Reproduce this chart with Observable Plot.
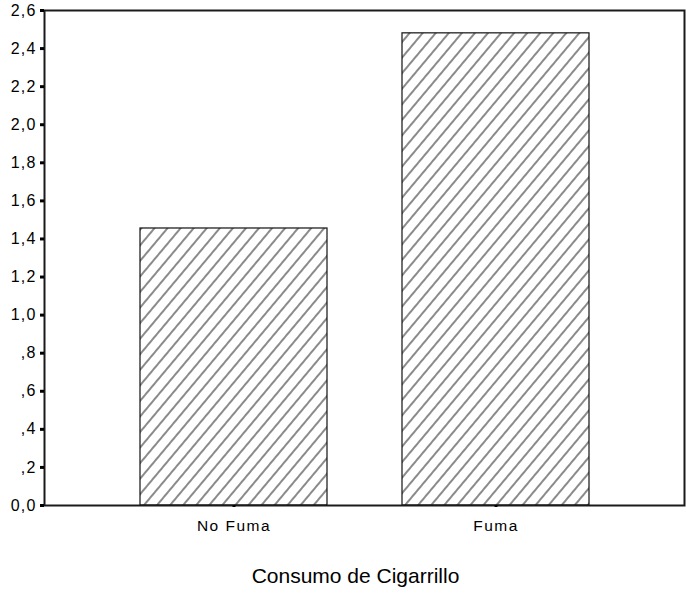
<!DOCTYPE html>
<html><head><meta charset="utf-8">
<script src="https://cdn.jsdelivr.net/npm/d3@7"></script>
<script src="https://cdn.jsdelivr.net/npm/@observablehq/plot@0.6"></script>
<style>
body{margin:0;background:#fff}
#chart g[aria-label="y-axis tick label"] text{letter-spacing:1.2px;font-size:16px}
#chart g[aria-label="x-axis tick label"] text{letter-spacing:1.5px;font-size:15.5px}
</style>
</head><body><div id="chart"></div>
<script>
const categories = ["No Fuma", "Fuma"];
const values = [1.455, 2.48];
const yTicks = [0, 0.2, 0.4, 0.6, 0.8, 1.0, 1.2, 1.4, 1.6, 1.8, 2.0, 2.2, 2.4, 2.6];
const xTitle = "Consumo de Cigarrillo";

const data = categories.map((c, i) => ({cat: c, value: values[i]}));
const fmt = d => {
  const s = d3.format(".1f")(d).replace(".", ",");
  return d > 0 && d < 1 ? s.slice(1) : s;
};

const chart = Plot.plot({
  width: 686, height: 595,
  marginLeft: 44, marginRight: 2, marginTop: 10, marginBottom: 90,
  style: {fontFamily: "'Liberation Sans', Arial, sans-serif", background: "#fff", color: "#000", overflow: "visible"},
  x: {domain: categories, paddingInner: 0.287, paddingOuter: 0.3635, align: 0.5, label: null},
  y: {domain: [0, 2.6], label: null},
  marks: [
    Plot.barY(data, {x: "cat", y: "value", fill: "url(#hatch)", stroke: "#111", strokeWidth: 1.2}),
    Plot.frame({stroke: "#1a1a1a", strokeWidth: 2}),
    Plot.axisY(yTicks, {tickSize: 4, tickPadding: 4, strokeWidth: 3, tickFormat: fmt, label: null}),
    Plot.axisX({tickSize: 2, tickPadding: 12, strokeWidth: 3, label: null}),
    Plot.text([xTitle], {text: d => d, frameAnchor: "bottom", lineAnchor: "middle", dy: 71, dx: -9, fontSize: 21})
  ]
});

d3.select(chart).insert("defs", ":first-child").html(
  `<pattern id="hatch" patternUnits="userSpaceOnUse" width="10" height="10" patternTransform="rotate(40)">
     <rect width="10" height="10" fill="#fff"/>
     <line x1="5" y1="-1" x2="5" y2="11" stroke="#2a2a2a" stroke-width="1.1"/>
   </pattern>`
);
document.getElementById("chart").appendChild(chart);
</script>
</body></html>
